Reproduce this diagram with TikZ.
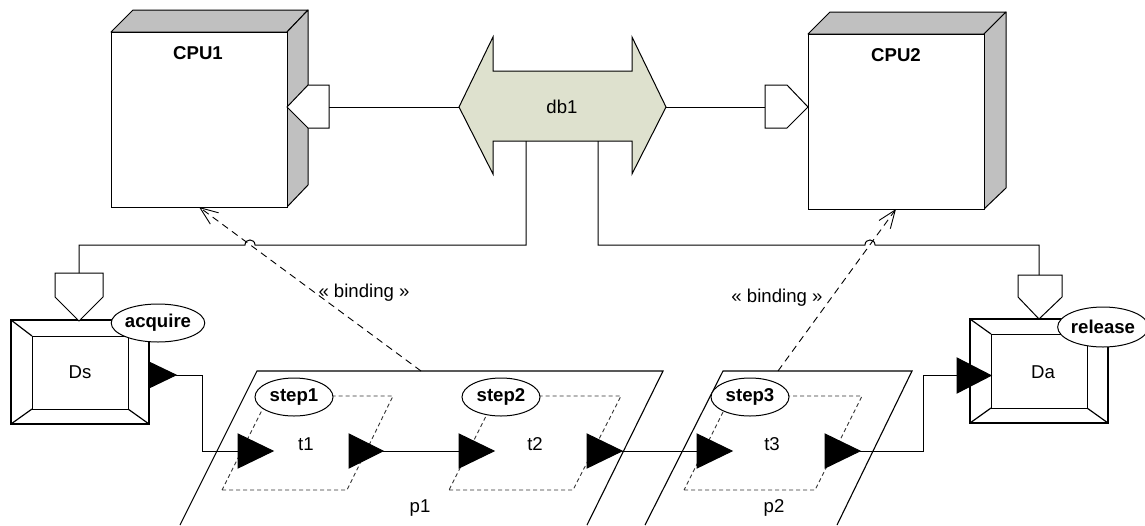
\documentclass[tikz,border=0pt]{standalone}
\usepackage{fontspec}
\setmainfont{Liberation Sans}
\usetikzlibrary{shapes.geometric,arrows.meta}
\definecolor{sidegray}{HTML}{C0C0C0}
\definecolor{busfill}{HTML}{DEE1CE}
\begin{document}
\begin{tikzpicture}[x=1pt,y=-1pt, line width=1pt,
  lbl/.style={font=\fontsize{18.6}{20}\selectfont, inner sep=0pt},
  blbl/.style={font=\fontsize{18.6}{20}\selectfont\bfseries, inner sep=0pt},
  side/.style={draw, fill=sidegray, line join=round},
  face/.style={draw, fill=white, inner sep=0pt, outer sep=0pt},
  port/.style={draw, fill=white},
  pin/.style={fill=black, draw=black},
  role/.style={ellipse, draw, fill=white, inner sep=0pt, font=\fontsize{18.6}{20}\selectfont\bfseries},
  stepedge/.style={line width=0.9pt, draw=black!80, dash pattern=on 4pt off 3pt},
  part/.style={draw, line width=1.1pt},
  bevel/.style={draw, line width=1.2pt},
  bind/.style={line width=0.9pt, dash pattern=on 7pt off 5pt, -{Straight Barb[length=18pt,width=14pt]}},
]
\useasboundingbox (0,0) rectangle (1145,525);

% ---------- CPU1 ----------
\path[side] (111,32) -- (133,10) -- (308,10) -- (287,32) -- cycle;
\path[side] (287,32) -- (308,10) -- (308,185) -- (287,207) -- cycle;
\node[face, minimum width=176pt, minimum height=175pt, anchor=north west] (cpu1) at (111,32) {};
\node[blbl] (cpu1lbl) at (198,53) {CPU1};
\path[port] (287,107) -- (308,85) -- (329,85) -- (329,128) -- (308,128) -- cycle;
\coordinate (cpu1port) at (329,107);
\coordinate (cpu1bot) at (199,207);

% ---------- CPU2 ----------
\path[side] (808,34) -- (830,12) -- (1006,12) -- (984,34) -- cycle;
\path[side] (984,34) -- (1006,12) -- (1006,188) -- (984,209) -- cycle;
\node[face, minimum width=176pt, minimum height=175pt, anchor=north west] (cpu2) at (808,34) {};
\node[blbl] (cpu2lbl) at (896,55) {CPU2};
\path[port] (765,85) -- (787,85) -- (808,107) -- (787,128) -- (765,128) -- cycle;
\coordinate (cpu2port) at (765,107);
\coordinate (cpu2bot) at (896,209);

% ---------- db1 ----------
\path[draw, fill=busfill, line join=miter] (459,107) -- (493,37) -- (493,71) -- (632,71) -- (632,37) -- (666,107)
  -- (632,174) -- (632,141) -- (493,141) -- (493,174) -- cycle;
\node[lbl] (db1) at (562,107) {db1};
\coordinate (dbL) at (459,107);
\coordinate (dbR) at (666,107);
\coordinate (dbB1) at (526,141);
\coordinate (dbB2) at (598,141);

% ---------- partitions p1, p2 ----------
\draw[part] (180,525) -- (257,371) -- (663,371) -- (587,525);
\draw[part] (645,525) -- (723,371) -- (912,371) -- (837,525);
\node[lbl] (p1) at (420,508) {p1};
\node[lbl] (p2) at (774,508) {p2};
\coordinate (p1top) at (421,371);
\coordinate (p2top) at (778,371);

% ---------- steps ----------
\draw[stepedge] (222,490) -- (347,490) -- (393,396) -- (269,396) -- cycle;
\draw[stepedge] (449,490) -- (573,490) -- (621,396) -- (496,396) -- cycle;
\draw[stepedge] (684,490) -- (815,490) -- (862,396) -- (731,396) -- cycle;
\node[lbl] (t1) at (306,444) {t1};
\node[lbl] (t2) at (535,444) {t2};
\node[lbl] (t3) at (772,444) {t3};

% pins
\path[pin] (238,434) -- (273,451) -- (238,468) -- cycle;
\path[pin] (349,434) -- (383,451) -- (349,468) -- cycle;
\path[pin] (459,434) -- (494,451) -- (459,468) -- cycle;
\path[pin] (587,434) -- (622,451) -- (587,468) -- cycle;
\path[pin] (697,434) -- (732,451) -- (697,468) -- cycle;
\path[pin] (825,434) -- (860,451) -- (825,468) -- cycle;
\coordinate (t1in) at (238,451);
\coordinate (t1out) at (383,451);
\coordinate (t2in) at (459,451);
\coordinate (t2out) at (622,451);
\coordinate (t3in) at (697,451);
\coordinate (t3out) at (860,451);

\node[role, minimum width=78pt, minimum height=38pt] (step1) at (294,397) {step1};
\node[role, minimum width=78pt, minimum height=38pt] (step2) at (501,397) {step2};
\node[role, minimum width=78pt, minimum height=38pt] (step3) at (750,397) {step3};

% ---------- Ds ----------
\draw[bevel] (11,320) rectangle (149,424);
\draw (32,336) rectangle (128,409);
\draw[bevel] (11,320) -- (32,336) (149,320) -- (128,336) (11,424) -- (32,409) (149,424) -- (128,409);
\node[lbl] (ds) at (80,372) {Ds};
\path[port] (55,273) -- (103,273) -- (103,297) -- (79,321) -- (55,297) -- cycle;
\coordinate (dsport) at (79,273);
\path[pin] (149,362) -- (176,375) -- (149,388) -- cycle;
\coordinate (dsout) at (176,375);
\node[role, minimum width=92pt, minimum height=38pt] (acq) at (158,323) {acquire};

% ---------- Da ----------
\draw[bevel] (970,319) rectangle (1108,423);
\draw (991,334) rectangle (1087,408);
\draw[bevel] (970,319) -- (991,334) (1108,319) -- (1087,334) (970,423) -- (991,408) (1108,423) -- (1087,408);
\node[lbl] (da) at (1043,372) {Da};
\path[port] (1018,275) -- (1062,275) -- (1062,297) -- (1039,319) -- (1018,297) -- cycle;
\coordinate (daport) at (1039,275);
\path[pin] (957,358) -- (991,375.5) -- (957,393) -- cycle;
\coordinate (dain) at (957,375.5);
\node[role, minimum width=84pt, minimum height=40pt] (rel) at (1103,327) {release};

% ---------- wires ----------
\draw (cpu1port) -- (dbL);
\draw (dbR) -- (cpu2port);
\draw (dbB1) -- (526,245) -- (255,245) .. controls (255,238.3) and (245,238.3) .. (245,245) -- (79,245) -- (dsport);
\draw (dbB2) -- (598,245) -- (865,245) .. controls (865,238.3) and (875,238.3) .. (875,245) -- (1039,245) -- (daport);
\draw (dsout) -- (202,375) -- (202,451) -- (t1in);
\draw (t1out) -- (t2in);
\draw (t2out) -- (t3in);
\draw (t3out) -- (923,451) -- (923,375.5) -- (dain);

% ---------- bindings ----------
\draw[bind] (p1top) -- (cpu1bot);
\draw[bind] (p2top) -- (cpu2bot);
\node[lbl, anchor=west] (bind1) at (318,293) {« binding »};
\node[lbl, anchor=east] (bind2) at (823,298) {« binding »};
\end{tikzpicture}
\end{document}
